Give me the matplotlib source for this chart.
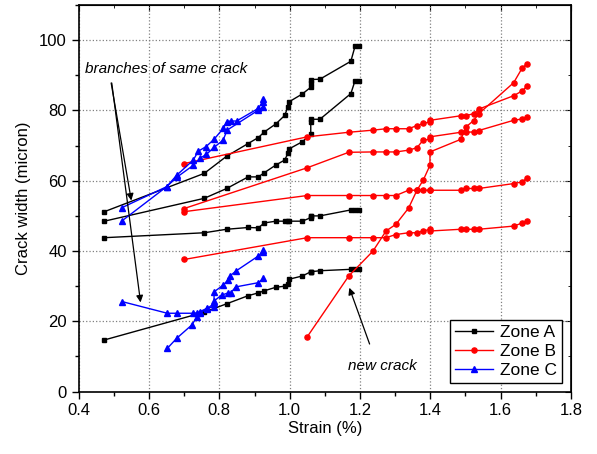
import matplotlib
matplotlib.use('Agg')
import matplotlib.pyplot as plt
from matplotlib import ticker

plt.rcParams['font.family'] = ['Liberation Sans', 'DejaVu Sans']

# Zone A (black squares) - four cracks measured at the same strain steps
strain_a = [0.473, 0.757, 0.821, 0.882, 0.911, 0.928, 0.961, 0.986, 0.995, 0.999,
            1.036, 1.060, 1.060, 1.060, 1.086, 1.174, 1.186, 1.198]
zone_a = [
    [51.2, 62.1, 67.0, 70.6, 72.3, 73.9, 76.2, 78.6, 81.0, 82.5,
     84.7, 86.6, 87.9, 88.8, 88.9, 94.0, 98.3, 98.3],
    [48.5, 55.0, 57.8, 61.1, 61.1, 62.3, 64.5, 65.9, 67.8, 69.1,
     71.1, 73.2, 76.6, 77.5, 77.5, 84.8, 88.5, 88.5],
    [43.8, 45.2, 46.2, 46.7, 46.6, 48.0, 48.5, 48.5, 48.5, 48.5,
     48.5, 49.5, 50.0, 50.0, 50.0, 51.7, 51.7, 51.7],
    [14.7, 22.6, 25.0, 27.3, 28.1, 28.7, 29.7, 30.0, 30.6, 32.0,
     32.9, 34.1, 34.1, 34.1, 34.4, 34.8, 34.8, 34.8],
]

# Zone B (red circles)
strain_b = [0.700, 1.050, 1.168, 1.237, 1.274, 1.302, 1.338, 1.362, 1.380, 1.399,
            1.399, 1.487, 1.501, 1.523, 1.538, 1.637, 1.662, 1.675]
zone_b = [
    [64.9, 72.5, 73.8, 74.4, 74.8, 74.8, 74.8, 75.7, 76.3, 76.8,
     77.2, 78.5, 78.5, 79.1, 80.4, 84.2, 85.6, 87.0],
    [52.1, 63.7, 68.1, 68.2, 68.2, 68.2, 68.7, 69.4, 71.6, 71.8,
     72.5, 73.8, 73.8, 73.9, 74.3, 77.2, 77.6, 78.0],
    [51.2, 55.8, 55.8, 55.8, 55.8, 55.8, 57.3, 57.3, 57.3, 57.3,
     57.3, 57.3, 57.8, 57.8, 57.8, 59.2, 59.7, 60.8],
    [37.6, 43.8, 43.8, 43.8, 43.8, 44.7, 45.2, 45.2, 45.7, 46.2,
     45.7, 46.2, 46.2, 46.2, 46.2, 47.1, 48.0, 48.5],
]
# new crack in zone B, first seen at 1.05 %
strain_b_new = strain_b[1:]
zone_b_new = [15.6, 32.9, 40.0, 45.7, 47.6, 52.2, 57.3, 60.2, 64.4, 68.2,
              71.8, 75.3, 77.1, 79.1, 87.9, 92.2, 93.2]

# Zone C (blue triangles)
strain_c1 = [0.522, 0.650, 0.679, 0.726, 0.740, 0.762, 0.785, 0.811, 0.821, 0.832,
             0.849, 0.911, 0.923, 0.923]
zone_c1 = [52.3, 58.3, 61.6, 65.9, 68.4, 69.7, 71.8, 74.9, 76.8, 77.0,
           77.0, 80.6, 82.5, 83.4]
strain_c2 = [0.522, 0.650, 0.679, 0.726, 0.745, 0.763, 0.785, 0.811, 0.822,
             0.911, 0.923]
zone_c2 = [48.5, 58.3, 61.0, 64.4, 66.4, 67.5, 69.5, 71.6, 74.4, 80.1, 81.0]
strain_c3 = [0.524, 0.652, 0.679, 0.724, 0.737, 0.745, 0.764, 0.785, 0.785,
             0.807, 0.826, 0.832, 0.847, 0.911, 0.925]
zone_c3 = [25.6, 22.3, 22.3, 22.3, 22.4, 22.7, 23.7, 24.1, 25.8,
           27.5, 28.1, 28.1, 29.8, 31.0, 32.2]
strain_c4 = [0.652, 0.679, 0.721, 0.737, 0.745, 0.764, 0.785, 0.785, 0.811,
             0.826, 0.830, 0.847, 0.911, 0.923, 0.925]
zone_c4 = [12.3, 15.2, 18.9, 21.3, 22.4, 23.5, 25.1, 28.4, 30.3,
           31.9, 32.9, 34.3, 38.6, 39.8, 40.3]

fig = plt.figure(figsize=(5.97, 4.54), dpi=100)
ax = fig.add_axes([0.1318, 0.1374, 0.8246, 0.8515])

style_a = dict(color='black', marker='s', markersize=3.2, lw=1.0)
style_b = dict(color='red', marker='o', markersize=3.7, lw=1.0)
style_c = dict(color='blue', marker='^', markersize=3.8, lw=1.0)

for i, y in enumerate(zone_a):
    ax.plot(strain_a, y, label='Zone A' if i == 0 else None, **style_a)
for i, y in enumerate(zone_b):
    ax.plot(strain_b, y, label='Zone B' if i == 0 else None, **style_b)
ax.plot(strain_b_new, zone_b_new, **style_b)
ax.plot(strain_c1, zone_c1, label='Zone C', **style_c)
ax.plot(strain_c2, zone_c2, **style_c)
ax.plot(strain_c3, zone_c3, **style_c)
ax.plot(strain_c4, zone_c4, **style_c)

ax.set_xlim(0.4, 1.8)
ax.set_ylim(0, 110)
ax.xaxis.set_major_locator(ticker.MultipleLocator(0.2))
ax.xaxis.set_minor_locator(ticker.MultipleLocator(0.1))
ax.yaxis.set_major_locator(ticker.MultipleLocator(20))
ax.yaxis.set_minor_locator(ticker.MultipleLocator(10))
ax.xaxis.set_major_formatter(ticker.FormatStrFormatter('%.1f'))
ax.tick_params(which='both', direction='out', labelsize=12, width=1.0)
ax.tick_params(which='major', length=5)
ax.tick_params(which='minor', length=3)
for s in ax.spines.values():
    s.set_linewidth(1.2)

# inward ticks on the opposite sides
top = ax.secondary_xaxis('top')
top.xaxis.set_major_locator(ticker.MultipleLocator(0.2))
top.xaxis.set_minor_locator(ticker.MultipleLocator(0.1))
top.tick_params(which='both', direction='in', labeltop=False)
top.tick_params(which='major', length=4)
top.tick_params(which='minor', length=2.5)
right = ax.secondary_yaxis('right')
right.yaxis.set_major_locator(ticker.MultipleLocator(20))
right.yaxis.set_minor_locator(ticker.MultipleLocator(10))
right.tick_params(which='both', direction='in', labelright=False)
right.tick_params(which='major', length=4)
right.tick_params(which='minor', length=2.5)

ax.grid(True, which='major', color='gray', linestyle=':', lw=0.9)
ax.set_axisbelow(True)

ax.set_xlabel('Strain (%)', fontsize=12, labelpad=2)
ax.set_ylabel('Crack width (micron)', fontsize=12, labelpad=6)

# annotations
ax.text(0.648, 91.7, 'branches of same crack', fontsize=11, style='italic',
        ha='center', va='center')
arrow = dict(arrowstyle='-|>', color='black', lw=0.9, mutation_scale=10)
ax.annotate('', xy=(0.551, 53.6), xytext=(0.491, 88.6), arrowprops=arrow)
ax.annotate('', xy=(0.577, 24.6), xytext=(0.493, 88.6), arrowprops=arrow)
ax.text(1.265, 7.4, 'new crack', fontsize=11, style='italic',
        ha='center', va='center')
ax.annotate('', xy=(1.167, 30.3), xytext=(1.230, 12.8), arrowprops=arrow)

leg = ax.legend(loc='lower right', fontsize=12.5, fancybox=False,
                edgecolor='black', framealpha=1, borderaxespad=0.5,
                handlelength=2.2, handletextpad=0.4, labelspacing=0.2,
                borderpad=0.3)
leg.get_frame().set_linewidth(1.0)

fig.savefig('out.png', dpi=100)
